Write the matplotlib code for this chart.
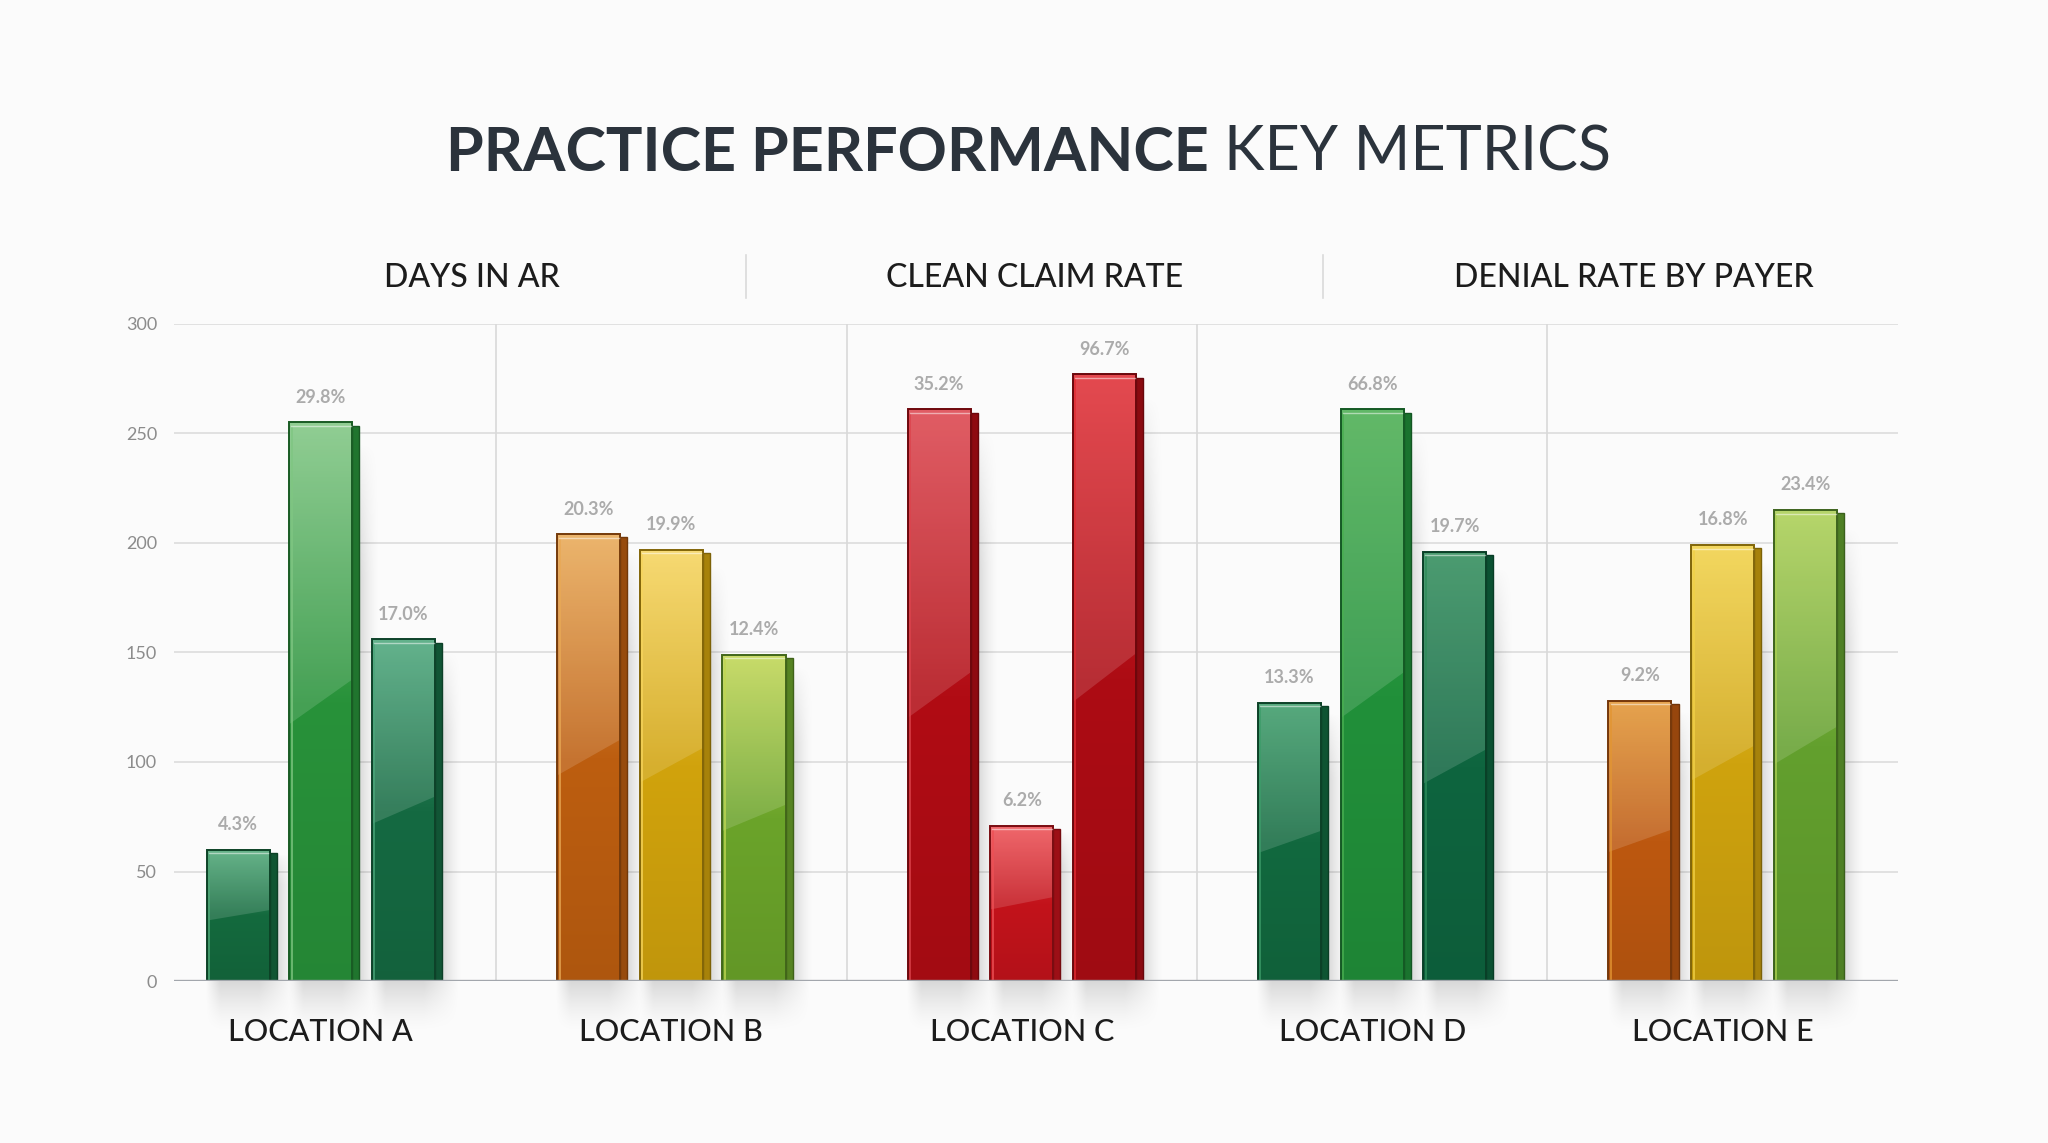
import numpy as np
import matplotlib.pyplot as plt
from matplotlib.patches import Rectangle, Polygon
from matplotlib.colors import LinearSegmentedColormap, to_rgb

# data
locations = ["LOCATION A", "LOCATION B", "LOCATION C", "LOCATION D", "LOCATION E"]
sections = ["DAYS IN AR", "CLEAN CLAIM RATE", "DENIAL RATE BY PAYER"]
bar1 = [60, 204, 261, 127, 128]
bar2 = [255, 197, 71, 261, 199]
bar3 = [156, 149, 277, 196, 215]
label1 = ["4.3%", "20.3%", "35.2%", "13.3%", "9.2%"]
label2 = ["29.8%", "19.9%", "6.2%", "66.8%", "16.8%"]
label3 = ["17.0%", "12.4%", "96.7%", "19.7%", "23.4%"]
yticks = [0, 50, 100, 150, 200, 250, 300]

# styles: (light top, dark bottom) per bar
colors1 = [("#4ea877", "#146a3e"), ("#e9a955", "#bd5e10"), ("#dc434c", "#b10c14"),
           ("#3c9c69", "#12693f"), ("#e29532", "#bd5810")]
colors2 = [("#7fc682", "#28923a"), ("#f6d45c", "#d1a30d"), ("#ee5055", "#c3131b"),
           ("#49ae50", "#21903a"), ("#f1d146", "#cfa30e")]
colors3 = [("#4aa67a", "#156a42"), ("#c0d652", "#6ba42a"), ("#e02c33", "#ad0c14"),
           ("#2f8c5a", "#0e653f"), ("#abcf53", "#63a02e")]


def darker(c, f):
    r, g, b = to_rgb(c)
    return (r * f, g * f, b * f)


def soft_shadow(ax, extent, fx, fy, amax):
    # fx, fy: alpha falloff along x and y (arrays 0..1)
    a = amax * np.outer(fy, fx)
    rgba = np.zeros(a.shape + (4,))
    rgba[..., 3] = a
    ax.imshow(rgba, origin="lower", extent=extent, aspect="auto", zorder=2,
              interpolation="bilinear", clip_on=False)


def draw_bar(ax, x, v, light, dark, w=0.18, d=0.02):
    x0 = x - w / 2
    # shadow to the right of the bar
    t = np.linspace(0, 1, 64)
    soft_shadow(ax, [x0 + w, x0 + w + 0.08, 0, v * 0.97],
                (1 - t) ** 1.6, np.clip((1 - t) * 4, 0, 1) ** 0.7, 0.22)
    # shadow under the bar
    soft_shadow(ax, [x0 - 0.005, x0 + w + 0.07, -24, 0],
                np.clip(np.minimum(t * 6, (1 - t) * 2.5), 0, 1),
                t ** 1.5, 0.14)
    # side face
    ax.add_patch(Rectangle((x0 + w, 0), d, v - 1.5, facecolor=darker(dark, 0.8),
                           edgecolor=darker(dark, 0.6), lw=1.0, zorder=3))
    # front face gradient
    cmap = LinearSegmentedColormap.from_list("g", [darker(dark, 0.92), dark, light])
    grad = np.linspace(0, 1, 256)[:, None]
    im = ax.imshow(grad, cmap=cmap, origin="lower", extent=[x0, x0 + w, 0, v],
                   aspect="auto", zorder=4, interpolation="bilinear")
    face = Rectangle((x0, 0), w, v, facecolor="none", edgecolor=darker(dark, 0.62),
                     lw=1.4, zorder=6)
    ax.add_patch(face)
    im.set_clip_path(face)
    # gloss
    ax.add_patch(Polygon([(x0, v), (x0 + w, v), (x0 + w, v * 0.54), (x0, v * 0.46)],
                         closed=True, facecolor="white", alpha=0.14, lw=0, zorder=5))
    # inner highlight edges
    ax.plot([x0 + 0.007, x0 + 0.007], [1, v - 2], color=light, lw=1.2, alpha=0.9, zorder=6)
    ax.plot([x0 + 0.006, x0 + w - 0.004], [v - 1.6, v - 1.6], color="white", lw=1.0, alpha=0.5, zorder=6)


def main():
    plt.rcParams["font.family"] = ["Lato", "DejaVu Sans"]
    fig = plt.figure(figsize=(20.48, 11.43), dpi=100, facecolor="#fbfbfb")
    ax = fig.add_axes([0.0848, 0.1417, 0.8419, 0.5749])
    ax.set_facecolor("none")

    # grid
    for t in yticks[1:]:
        ax.axhline(t, color="#dcdcdc", lw=1.2, zorder=1)
    for i in range(4):
        ax.axvline(i + 0.5, color="#d9d9d9", lw=1.2, zorder=1)
    ax.axhline(0, color="#a2a6ac", lw=2.4, zorder=7)

    off = 0.236
    series = [(bar1, label1, colors1, -off), (bar2, label2, colors2, 0.0), (bar3, label3, colors3, off)]
    for vals, labs, cols, dx in series:
        for i, v in enumerate(vals):
            draw_bar(ax, i + dx, v, cols[i][0], cols[i][1])
            ax.annotate(labs[i], (i + dx, v), xytext=(0, 12), textcoords="offset points",
                        ha="center", va="bottom", fontsize=13, fontweight="bold",
                        color="#ababab", zorder=8)

    ax.set_xlim(-0.42, 4.5)
    ax.set_ylim(0, 300)
    ax.set_yticks(yticks)
    ax.set_yticklabels([str(t) for t in yticks], fontsize=13, color="#8c8c8c")
    ax.tick_params(axis="y", length=0, pad=12)
    ax.set_xticks([])
    for s in ax.spines.values():
        s.set_visible(False)

    for i, name in enumerate(locations):
        ax.text(i, -0.078, name, transform=ax.get_xaxis_transform(), ha="center", va="center",
                fontsize=22, fontweight="medium", color="#1c1c1c")

    # title
    fig.text(0.5905, 0.866, "PRACTICE PERFORMANCE", ha="right", va="center",
             fontsize=44, fontweight="bold", color="#2b333c")
    fig.text(0.5975, 0.866, "KEY METRICS", ha="left", va="center",
             fontsize=44, color="#2b333c")

    # section headers
    for xc, name in zip([0.2302, 0.5051, 0.7978], sections):
        fig.text(xc, 0.7565, name, ha="center", va="center", fontsize=23,
                 fontweight="medium", color="#1c1c1c")
    for xs in [0.3642, 0.646]:
        fig.add_artist(plt.Line2D([xs, xs], [0.739, 0.777], color="#dadada", lw=1.2))

    fig.savefig("out.png", dpi=100, facecolor=fig.get_facecolor())


if __name__ == "__main__":
    main()
